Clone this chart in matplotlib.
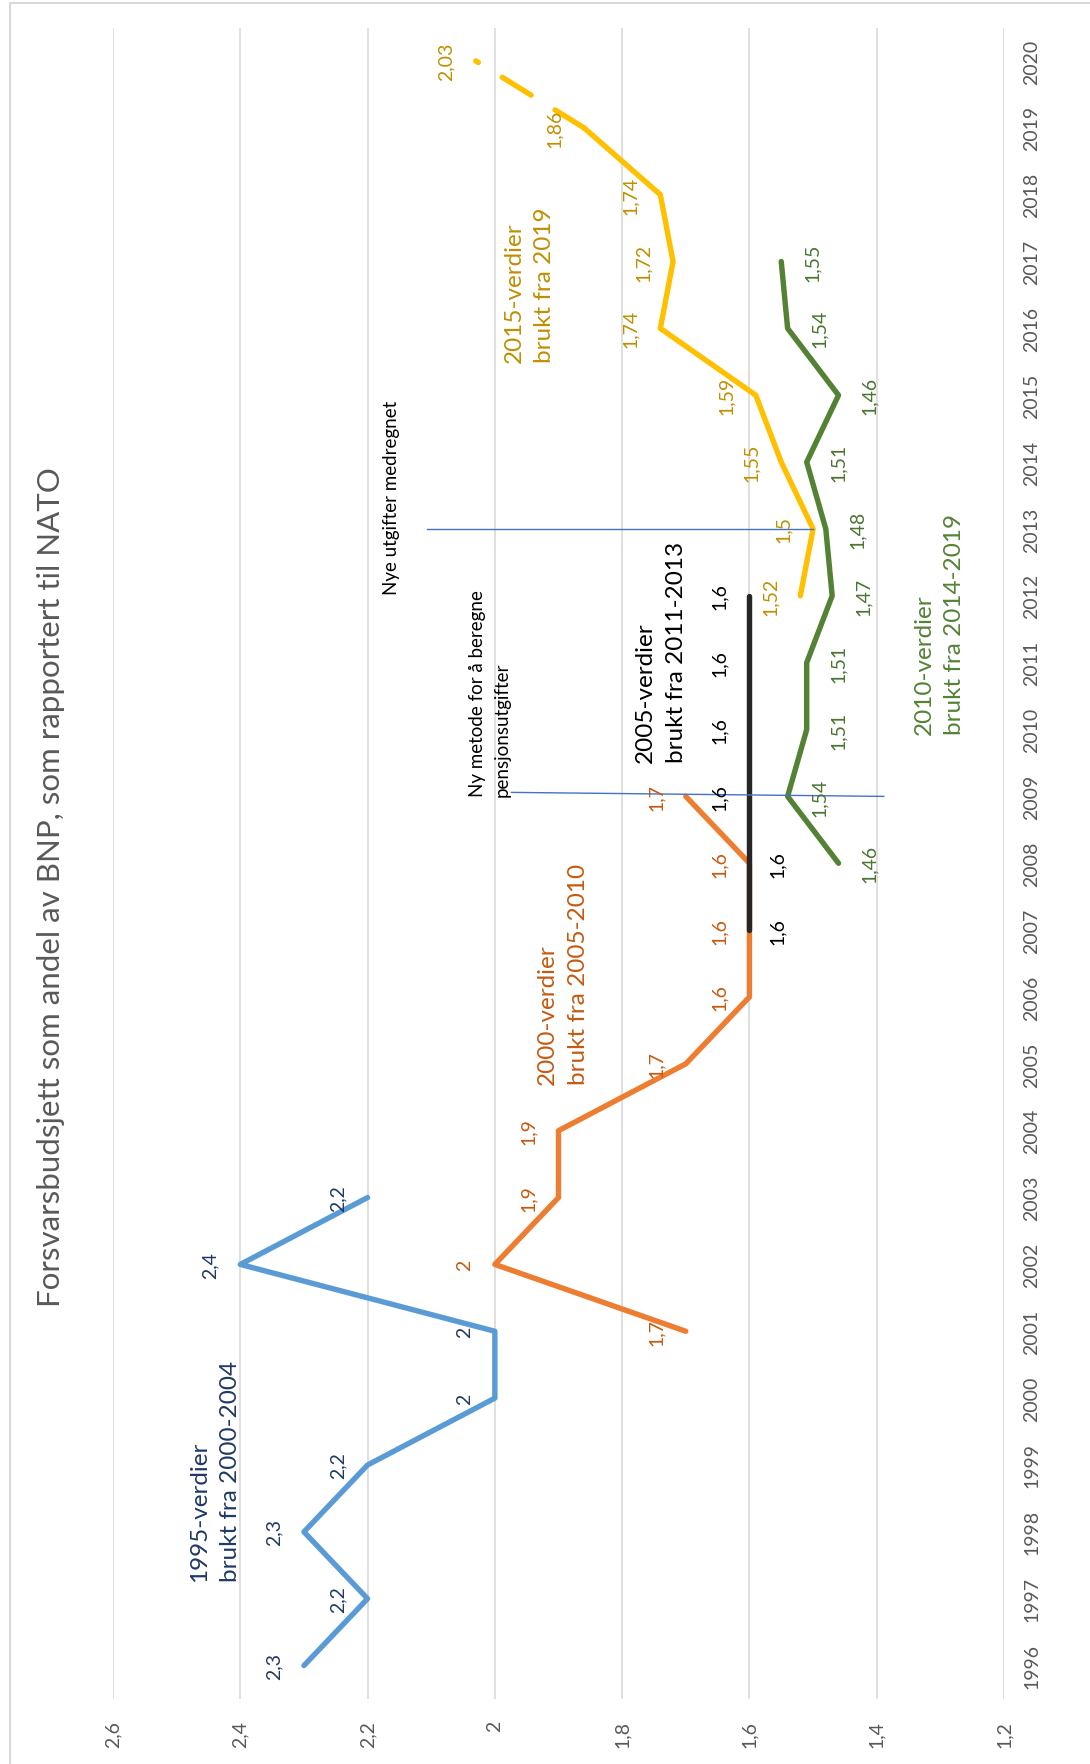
import matplotlib
matplotlib.use("Agg")
import matplotlib.pyplot as plt
from matplotlib.patches import Rectangle

plt.rcParams['font.family'] = ['Lato', 'DejaVu Sans']
plt.rcParams['lines.scale_dashes'] = False

# --- data: forsvarsbudsjett i prosent av BNP ---
years_1995 = [1996, 1997, 1998, 1999, 2000, 2001, 2002, 2003]
vals_1995 = [2.3, 2.2, 2.3, 2.2, 2.0, 2.0, 2.4, 2.2]

years_2000 = [2001, 2002, 2003, 2004, 2005, 2006, 2007, 2008, 2009]
vals_2000 = [1.7, 2.0, 1.9, 1.9, 1.7, 1.6, 1.6, 1.6, 1.7]

years_2005 = [2007, 2008, 2009, 2010, 2011, 2012]
vals_2005 = [1.6, 1.6, 1.6, 1.6, 1.6, 1.6]

years_2010 = [2008, 2009, 2010, 2011, 2012, 2013, 2014, 2015, 2016, 2017]
vals_2010 = [1.46, 1.54, 1.51, 1.51, 1.47, 1.48, 1.51, 1.46, 1.54, 1.55]

years_2015 = [2012, 2013, 2014, 2015, 2016, 2017, 2018, 2019, 2020]
vals_2015 = [1.52, 1.5, 1.55, 1.59, 1.74, 1.72, 1.74, 1.86, 2.03]

year_ticks = list(range(1996, 2021))
value_ticks = [2.6, 2.4, 2.2, 2.0, 1.8, 1.6, 1.4, 1.2]

TITLE = "Forsvarsbudsjett som andel av BNP, som rapportert til NATO"

# farger
C_BLUE, C_BLUE_TXT = '#5B9BD5', '#203864'
C_ORANGE, C_ORANGE_TXT = '#ED7D31', '#C55A11'
C_BLACK = '#262626'
C_GREEN, C_GREEN_TXT = '#548235', '#4A7530'
C_GOLD, C_GOLD_TXT = '#FFC000', '#BF9000'
C_GRID = '#D9D9D9'
C_AXIS_TXT = '#595959'
C_MARK = '#4472C4'

LW = 3.9
LABEL_FS = 14


def fmt(v):
    return f"{v:g}".replace('.', ',')


fig = plt.figure(figsize=(10.9, 17.65), dpi=100)
W, H = 1090, 1765
ax = fig.add_axes([113 / W, 1 - 1700 / H, (1004 - 113) / W, (1700 - 28.5) / H])
ax.set_xlim(2.6, 1.2)
ax.set_ylim(1995.5, 2020.5)

for s in ax.spines.values():
    s.set_visible(False)
for v in value_ticks:
    ax.axvline(v, color=C_GRID, lw=1.2, zorder=0)

ax.set_xticks(value_ticks)
ax.set_xticklabels([fmt(v) for v in value_ticks], rotation=90, va='top',
                   fontsize=LABEL_FS, color=C_AXIS_TXT)
ax.set_yticks(year_ticks)
ax.set_yticklabels([str(y) for y in year_ticks], rotation=90, va='center',
                   fontsize=LABEL_FS, color=C_AXIS_TXT)
ax.yaxis.tick_right()
ax.tick_params(axis='x', length=0, pad=15)
ax.tick_params(axis='y', length=0, pad=14)

line_kw = dict(lw=LW, solid_capstyle='round', solid_joinstyle='round')
ax.plot(vals_1995, years_1995, color=C_BLUE, **line_kw)
ax.plot(vals_2000, years_2000, color=C_ORANGE, **line_kw)
ax.plot(vals_2005, years_2005, color=C_BLACK, **line_kw)
ax.plot(vals_2010, years_2010, color=C_GREEN, **line_kw)
ax.plot(vals_2015[:-1], years_2015[:-1], color=C_GOLD, **line_kw)
# siste segment (2019-2020) stiplet
ax.plot(vals_2015[-2:], years_2015[-2:], color=C_GOLD, lw=LW,
        dashes=[24.5, 20.2], dash_capstyle='round')


def labels(vals, years, color, dx):
    for i, (v, y) in enumerate(zip(vals, years)):
        off = dx[i] if isinstance(dx, list) else dx
        ax.annotate(fmt(v), (v, y), xytext=(off, 0), textcoords='offset points',
                    rotation=90, ha='center', va='center', fontsize=LABEL_FS,
                    color=color)


labels(vals_1995, years_1995, C_BLUE_TXT, -21.5)
labels(vals_2000, years_2000, C_ORANGE_TXT, -21.5)
labels(vals_2005, years_2005, 'black', [20, 20, -22, -22, -22, -22])
labels(vals_2010, years_2010, C_GREEN_TXT, 22.5)
labels(vals_2015, years_2015, C_GOLD_TXT, -21.5)

# markeringslinjer for metodeendringer
ax.plot([2.107, 1.5], [2013, 2013], color=C_MARK, lw=1)
ax.plot([1.974, 1.389], [2009.06, 2009.0], color=C_MARK, lw=1)

note_kw = dict(rotation=90, ha='center', va='bottom', multialignment='left')
big = dict(fontsize=17.5, linespacing=1.55, **note_kw)
small = dict(fontsize=13.5, linespacing=1.6, **note_kw)
ax.text(2.44, 1997.27, "1995-verdier\nbrukt fra 2000-2004",
        color=C_BLUE_TXT, **big)
ax.text(1.893, 2004.70, "2000-verdier\nbrukt fra 2005-2010",
        color=C_ORANGE_TXT, **big)
ax.text(1.739, 2009.51, "2005-verdier\nbrukt fra 2011-2013",
        color='black', **big)
ax.text(1.301, 2009.93, "2010-verdier\nbrukt fra 2014-2019",
        color=C_GREEN, **big)
ax.text(1.946, 2015.49, "2015-verdier\nbrukt fra 2019",
        color=C_GOLD_TXT, **big)
ax.text(2.163, 2012.02, "Nye utgifter medregnet", color='black', **small)
ax.text(2.008, 2009.0, "Ny metode for å beregne\npensjonsutgifter",
        color='black', **small)

fig.text(51 / W, 1 - 887 / H, TITLE, rotation=90, ha='center', va='center',
         fontsize=22.5, color=C_AXIS_TXT)

fig.patches.append(Rectangle((10 / W, -0.01), 1.02, 1 - 4 / H + 0.01,
                             transform=fig.transFigure, fill=False,
                             ec=C_GRID, lw=1.5))

fig.savefig('out.png', dpi=100)
